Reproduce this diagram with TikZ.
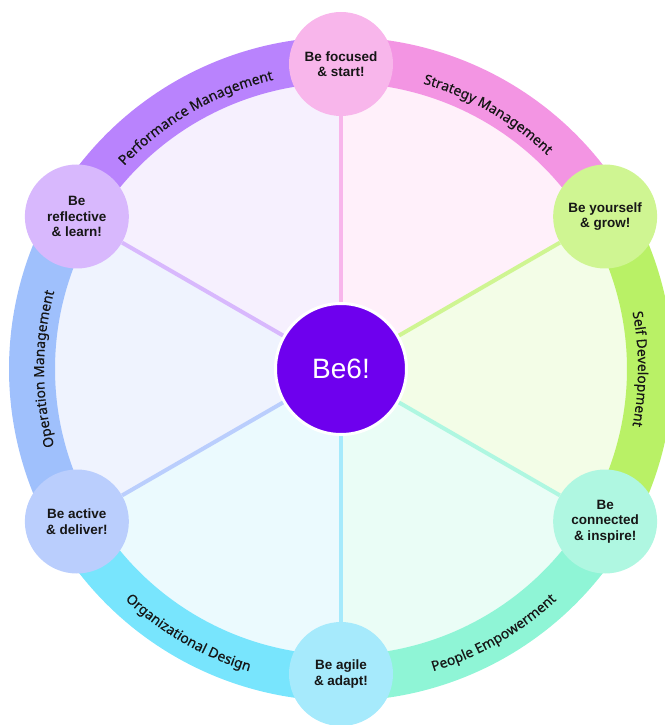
\documentclass[tikz,border=0pt]{standalone}
\usepackage{fontspec}
\setmainfont{Liberation Sans}
\newfontfamily\ringfont{Noto Sans}[FakeBold=0.4]
\usepackage{tikz}
\usetikzlibrary{decorations.text}
\definecolor{ink}{HTML}{161616}
\definecolor{hub}{HTML}{6E00EE}
% sectors
\definecolor{secPink}{HTML}{FFF0FA}
\definecolor{secGreen}{HTML}{F3FDE7}
\definecolor{secMint}{HTML}{EAFDF6}
\definecolor{secCyan}{HTML}{EBFAFE}
\definecolor{secBlue}{HTML}{EFF3FE}
\definecolor{secLilac}{HTML}{F6F0FE}
% ring bands
\definecolor{bandPink}{HTML}{F395E3}
\definecolor{bandGreen}{HTML}{B9F166}
\definecolor{bandMint}{HTML}{8FF5D6}
\definecolor{bandCyan}{HTML}{78E5FD}
\definecolor{bandBlue}{HTML}{9FC0FC}
\definecolor{bandLilac}{HTML}{B983FD}
% stage circles
\definecolor{dotPink}{HTML}{F8B6EB}
\definecolor{dotGreen}{HTML}{CFF592}
\definecolor{dotMint}{HTML}{AFF7E1}
\definecolor{dotCyan}{HTML}{A6EAFC}
\definecolor{dotBlue}{HTML}{BACEFD}
\definecolor{dotLilac}{HTML}{D8B8FD}
\tikzset{
  stage/.style={circle, fill=#1, minimum size=104pt, inner sep=0pt, align=center,
    text=ink, font=\fontsize{13.5}{15.5}\selectfont\bfseries},
  core/.style={circle, fill=hub, draw=white, line width=3pt, minimum size=131pt,
    inner sep=0pt, text=white, font=\fontsize{28}{32}\selectfont},
  spoke/.style={draw=#1, line width=4pt},
  ringtext/.style={decorate, decoration={text along path, text align=center,
    text color=ink, text={|\ringfont\fontsize{13.8}{17}\selectfont|#1}}}
}

\begin{document}
\begin{tikzpicture}[x=1pt,y=1pt]
  \useasboundingbox (-341,-356) rectangle (323,369);
  \coordinate (O) at (0,0);

  % inner sectors
  \fill[secPink] (O) -- (90:287) arc[start angle=90, end angle=30, radius=287pt] -- cycle;
  \fill[secGreen] (O) -- (30:287) arc[start angle=30, end angle=-30, radius=287pt] -- cycle;
  \fill[secMint] (O) -- (-30:287) arc[start angle=-30, end angle=-90, radius=287pt] -- cycle;
  \fill[secCyan] (O) -- (-90:287) arc[start angle=-90, end angle=-150, radius=287pt] -- cycle;
  \fill[secBlue] (O) -- (210:287) arc[start angle=210, end angle=150, radius=287pt] -- cycle;
  \fill[secLilac] (O) -- (150:287) arc[start angle=150, end angle=90, radius=287pt] -- cycle;

  % outer ring
  \fill[bandPink] (90:332) arc[start angle=90, end angle=30, radius=332pt]
    -- (30:286) arc[start angle=30, end angle=90, radius=286pt] -- cycle;
  \fill[bandGreen] (30:332) arc[start angle=30, end angle=-30, radius=332pt]
    -- (-30:286) arc[start angle=-30, end angle=30, radius=286pt] -- cycle;
  \fill[bandMint] (-30:332) arc[start angle=-30, end angle=-90, radius=332pt]
    -- (-90:286) arc[start angle=-90, end angle=-30, radius=286pt] -- cycle;
  \fill[bandCyan] (-90:332) arc[start angle=-90, end angle=-150, radius=332pt]
    -- (-150:286) arc[start angle=-150, end angle=-90, radius=286pt] -- cycle;
  \fill[bandBlue] (210:332) arc[start angle=210, end angle=150, radius=332pt]
    -- (150:286) arc[start angle=150, end angle=210, radius=286pt] -- cycle;
  \fill[bandLilac] (150:332) arc[start angle=150, end angle=90, radius=332pt]
    -- (90:286) arc[start angle=90, end angle=150, radius=286pt] -- cycle;

  % ring labels
  \path[ringtext={Strategy Management}] (90:297) arc[start angle=90, end angle=30, radius=297pt];
  \path[ringtext={Self Development}] (30:297) arc[start angle=30, end angle=-30, radius=297pt];
  \path[ringtext={People Empowerment}] (-90:316) arc[start angle=-90, end angle=-30, radius=316pt];
  \path[ringtext={Organizational Design}] (-150:316) arc[start angle=-150, end angle=-90, radius=316pt];
  \path[ringtext={Operation Management}] (210:297) arc[start angle=210, end angle=150, radius=297pt];
  \path[ringtext={Performance Management}] (150:297) arc[start angle=150, end angle=90, radius=297pt];

  \node[core] (be6) at (O) {Be6!};
  \node[stage=dotPink] (focus) at (90:305) {Be focused\\\& start!};
  \node[stage=dotGreen] (grow) at (30:305) {Be yourself\\\& grow!};
  \node[stage=dotMint] (inspire) at (-30:305) {Be\\connected\\\& inspire!};
  \node[stage=dotCyan] (adapt) at (-90:305) {Be agile\\\& adapt!};
  \node[stage=dotBlue] (deliver) at (-150:305) {Be active\\\& deliver!};
  \node[stage=dotLilac] (learn) at (150:305) {Be\\reflective\\\& learn!};

  \draw[spoke=dotPink] (be6) -- (focus);
  \draw[spoke=dotGreen] (be6) -- (grow);
  \draw[spoke=dotMint] (be6) -- (inspire);
  \draw[spoke=dotCyan] (be6) -- (adapt);
  \draw[spoke=dotBlue] (be6) -- (deliver);
  \draw[spoke=dotLilac] (be6) -- (learn);
\end{tikzpicture}
\end{document}
